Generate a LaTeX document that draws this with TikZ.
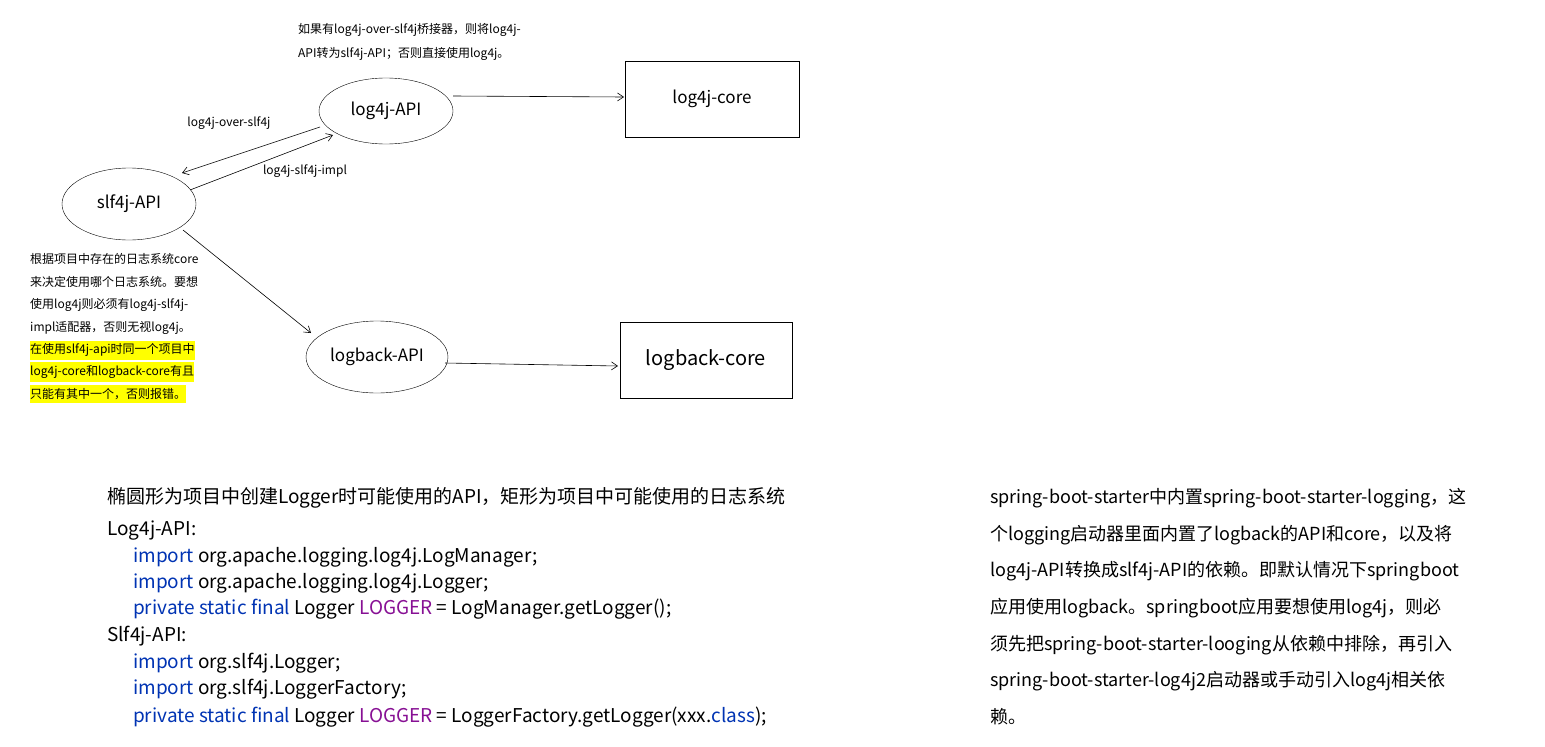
\documentclass[tikz,border=0pt]{standalone}
\usepackage{fontspec}
\setmainfont{Noto Sans CJK SC}
\usetikzlibrary{shapes.geometric,arrows.meta}
\definecolor{kw}{HTML}{0033B3}
\definecolor{pu}{HTML}{871094}
\definecolor{hl}{HTML}{FFFF00}
\tikzset{
 ell/.style={draw,ellipse,minimum width=134pt,minimum height=68pt,font=\fontsize{17}{20}\selectfont},
 box/.style={draw,rectangle,minimum width=174pt,minimum height=76pt,font=\fontsize{17}{20}\selectfont},
 arr/.style={-{Straight Barb[length=6pt,width=8pt]},line width=0.6pt},
 small/.style={font=\fontsize{12}{14}\selectfont,anchor=west,inner sep=0},
 big/.style={font=\fontsize{19}{22}\selectfont,anchor=west,inner sep=0},
 rt/.style={font=\fontsize{18}{21}\selectfont,anchor=west,inner sep=0}
}
\begin{document}
\begin{tikzpicture}[x=1pt,y=-1pt]
\useasboundingbox (0,0) rectangle (1545,747);
\node[ell,minimum height=66pt] (l4a) at (386,111) {log4j-API};
\node[box] (l4c) at (712,99) {log4j-core};
\node[ell,minimum height=72pt] (s4a) at (129,204) {slf4j-API};
\node[ell,minimum height=72pt] (lba) at (377,357) {logback-API};
\node[box,minimum width=172pt,font=\fontsize{20}{24}\selectfont] (lbc) at (706,360) {logback-core};
\coordinate (a1) at (453,96); \coordinate (a2) at (624,97);
\draw[arr] (a1) -- (a2);
\coordinate (b1) at (320,127); \coordinate (b2) at (182,173);
\draw[arr] (b1) -- (b2);
\coordinate (c1) at (190,190); \coordinate (c2) at (333,135);
\draw[arr] (c1) -- (c2);
\coordinate (d1) at (183,230); \coordinate (d2) at (311,333);
\draw[arr] (d1) -- (d2);
\coordinate (e1) at (445,363); \coordinate (e2) at (618,366);
\draw[arr] (e1) -- (e2);
\node[small,anchor=center] (lb1) at (229,123) {log4j-over-slf4j};
\node[small,anchor=center] (lb2) at (305,171) {log4j-slf4j-impl};
\node[small] (t1) at (298,30) {如果有log4j-over-slf4j桥接器，则将log4j-};
\node[small] (t2) at (298,54) {API转为slf4j-API；否则直接使用log4j。};
\node[small] (n1) at (30,259) {根据项目中存在的日志系统core};
\node[small] (n2) at (30,282) {来决定使用哪个日志系统。要想};
\node[small] (n3) at (30,305) {使用log4j则必须有log4j-slf4j-};
\node[small] (n4) at (30,328) {impl适配器，否则无视log4j。};
\node[small,fill=hl,inner ysep=3pt] (n5) at (30,350) {在使用slf4j-api时同一个项目中};
\node[small,fill=hl,inner ysep=3pt] (n6) at (30,372) {log4j-core和logback-core有且};
\node[small,fill=hl,inner ysep=3pt] (n7) at (30,394) {只能有其中一个，否则报错。};
\node[big] (g1) at (107,498) {椭圆形为项目中创建Logger时可能使用的API，矩形为项目中可能使用的日志系统};
\node[big] (g2) at (107,531) {Log4j-API:};
\node[big] (g3) at (133,557) {\textcolor{kw}{import} org.apache.logging.log4j.LogManager;};
\node[big] (g4) at (133,583) {\textcolor{kw}{import} org.apache.logging.log4j.Logger;};
\node[big] (g5) at (133,609) {\textcolor{kw}{private static final} Logger \textcolor{pu}{\textit{LOGGER}} = LogManager.\textit{getLogger}();};
\node[big] (g6) at (107,636) {Slf4j-API:};
\node[big] (g7) at (133,663) {\textcolor{kw}{import} org.slf4j.Logger;};
\node[big] (g8) at (133,689) {\textcolor{kw}{import} org.slf4j.LoggerFactory;};
\node[big] (g9) at (133,717) {\textcolor{kw}{private static final} Logger \textcolor{pu}{\textit{LOGGER}} = LoggerFactory.\textit{getLogger}(xxx.\textcolor{kw}{class});};
\node[rt] (r1) at (990,498) {spring-boot-starter中内置spring-boot-starter-logging，这};
\node[rt] (r2) at (990,535) {个logging启动器里面内置了logback的API和core，以及将};
\node[rt] (r3) at (990,571) {log4j-API转换成slf4j-API的依赖。即默认情况下springboot};
\node[rt] (r4) at (990,608) {应用使用logback。springboot应用要想使用log4j，则必};
\node[rt] (r5) at (990,645) {须先把spring-boot-starter-looging从依赖中排除，再引入};
\node[rt] (r6) at (990,681) {spring-boot-starter-log4j2启动器或手动引入log4j相关依};
\node[rt] (r7) at (990,717) {赖。};
\end{tikzpicture}
\end{document}
